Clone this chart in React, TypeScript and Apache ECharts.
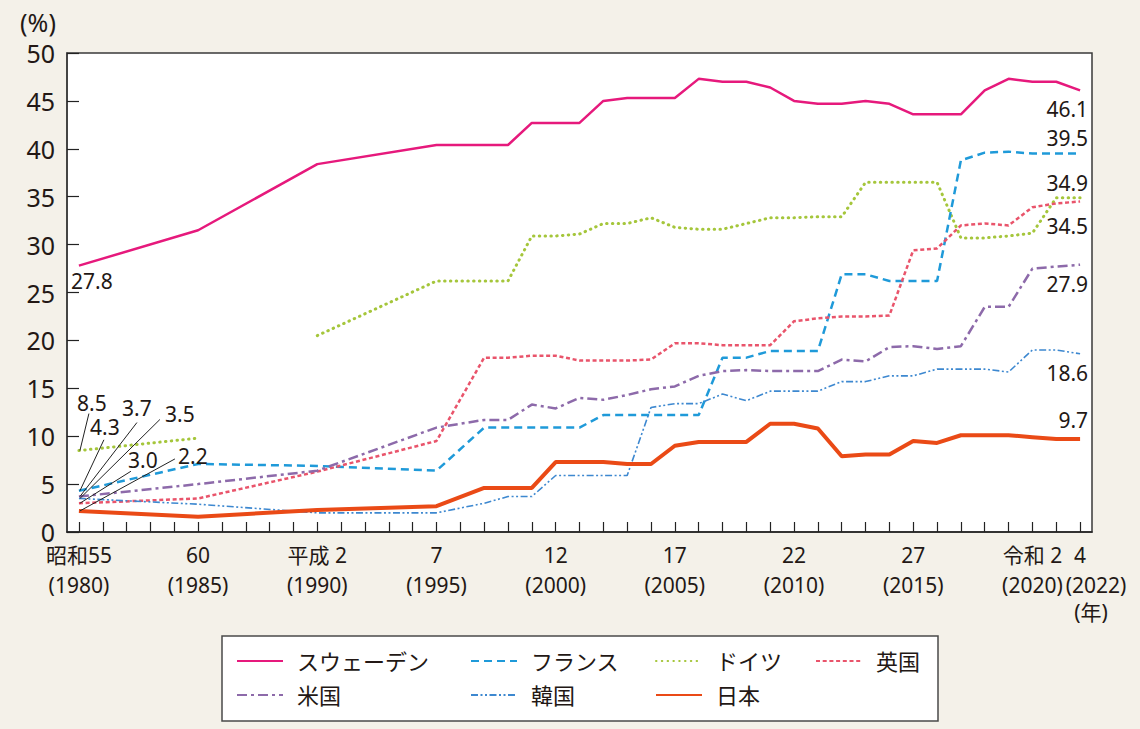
import React, { useEffect, useRef } from "react";
import * as echarts from "echarts";

const _ = null;

// categories: 1980 .. 2022
const years: string[] = Array.from({ length: 43 }, (_v, i) => String(1980 + i));

// x tick labels (index -> text)
const xLabels: Record<number, string> = {
  0: "昭和55\n(1980)",
  5: "60\n(1985)",
  10: "平成 2\n(1990)",
  15: "7\n(1995)",
  20: "12\n(2000)",
  25: "17\n(2005)",
  30: "22\n(2010)",
  35: "27\n(2015)",
  40: "令和 2\n(2020)",
};
const lastLabelTop = "4";
const lastLabelBottom = "(2022)";
const yearUnit = "(年)";
const yUnit = "(%)";

// series values (%) — 1980..2022, null where no data
const sweden = [27.8,_,_,_,_, 31.5,_,_,_,_, 38.4,_,_,_,_, 40.4,_,
  40.4,40.4,42.7,42.7,42.7,45.0,45.3,45.3,45.3,47.3,47.0,47.0,46.4,45.0,44.7,44.7,45.0,44.7,43.6,43.6,43.6,46.1,47.3,47.0,47.0,46.1];
const france = [4.3,_,_,_,_, 7.1,_,_,_,_, 6.9,_,_,_,_, 6.4,_,
  10.9,10.9,10.9,10.9,10.9,12.2,12.2,12.2,12.2,12.2,18.2,18.2,18.9,18.9,18.9,26.9,26.9,26.2,26.2,26.2,38.8,39.6,39.7,39.5,39.5,39.5];
const germany = [8.5,_,_,_,_, 9.8,_,_,_,_, 20.5,_,_,_,_, 26.2,_,
  26.2,26.2,30.9,30.9,31.1,32.2,32.2,32.8,31.8,31.6,31.6,32.2,32.8,32.8,32.9,32.9,36.5,36.5,36.5,36.5,30.7,30.7,30.9,31.2,34.9,34.9];
const uk = [3.0,_,_,_,_, 3.5,_,_,_,_, 6.3,_,_,_,_, 9.5,_,
  18.2,18.2,18.4,18.4,17.9,17.9,17.9,18.0,19.7,19.7,19.5,19.5,19.5,22.0,22.3,22.5,22.5,22.6,29.4,29.6,32.0,32.2,32.0,33.9,34.3,34.5];
const us = [3.7,_,_,_,_, 5.0,_,_,_,_, 6.4,_,_,_,_, 10.9,_,
  11.7,11.7,13.3,12.9,14.0,13.8,14.3,14.9,15.2,16.3,16.8,16.9,16.8,16.8,16.8,18.0,17.8,19.3,19.4,19.1,19.4,23.5,23.5,27.5,27.7,27.9];
const korea = [3.5,_,_,_,_, 2.9,_,_,_,_, 2.0,_,_,_,_, 2.0,_,
  3.0,3.7,3.7,5.9,5.9,5.9,5.9,13.0,13.4,13.4,14.4,13.7,14.7,14.7,14.7,15.7,15.7,16.3,16.3,17.0,17.0,17.0,16.7,19.0,19.0,18.6];
const japan = [2.2,_,_,_,_, 1.6,_,_,_,_, 2.3,_,_,_,_, 2.7,_,
  4.6,4.6,4.6,7.3,7.3,7.3,7.1,7.1,9.0,9.4,9.4,9.4,11.3,11.3,10.8,7.9,8.1,8.1,9.5,9.3,10.1,10.1,10.1,9.9,9.7,9.7];

const FONT = "'Noto Sans', 'Noto Sans CJK JP', sans-serif";
const TEXT = "#231815";

const styles: Record<string, any> = {
  "スウェーデン": { color: "#e6197c", width: 2.5, type: "solid" },
  "フランス": { color: "#1f9ad9", width: 2.5, type: [8, 5] },
  "ドイツ": { color: "#a5c63b", width: 3, type: [0.5, 5.3], cap: "round" },
  "英国": { color: "#e9546b", width: 2.5, type: [4, 2.7] },
  "米国": { color: "#8d6aaa", width: 2.5, type: [10, 4, 3, 4] },
  "韓国": { color: "#3d88d0", width: 1.6, type: [7, 2.5, 2, 2.5, 2, 2.5] },
  "日本": { color: "#ea4a16", width: 4, type: "solid" },
};

export default function App() {
  const ref = useRef<HTMLDivElement>(null);
  useEffect(() => {
    document.body.style.margin = "0";
    const chart = echarts.init(ref.current!, null, { renderer: "svg" });

    const mk = (name: string, data: (number | null)[], z = 2) => {
      const s = styles[name];
      return {
        name,
        type: "line",
        data,
        symbol: "none",
        connectNulls: true,
        silent: true,
        z,
        itemStyle: { color: s.color },
        lineStyle: { color: s.color, width: s.width, type: s.type, cap: s.cap || "butt" },
        emphasis: { disabled: true },
      };
    };

    const germanyWest = germany.map((v, i) => (i <= 5 ? v : null));
    const germanyUnified = germany.map((v, i) => (i >= 10 ? v : null));

    const legendBase = {
      orient: "vertical",
      top: 650,
      itemWidth: 46,
      itemHeight: 14,
      itemGap: 12,
      padding: 0,
      selectedMode: false,
      itemStyle: { opacity: 0 },
      textStyle: { fontSize: 22, fontFamily: FONT, color: TEXT, padding: [0, 0, 0, 9] },
    };

    const option: any = {
      animation: false,
      backgroundColor: "#f4f1e9",
      grid: {
        left: 67,
        top: 53,
        width: 1025,
        height: 479,
        show: true,
        backgroundColor: "#ffffff",
        borderColor: "#3a3a3a",
        borderWidth: 1.5,
      },
      xAxis: {
        type: "category",
        data: years,
        boundaryGap: true,
        axisLine: { lineStyle: { color: "#222", width: 1.5 } },
        axisTick: {
          show: true,
          inside: true,
          alignWithLabel: true,
          interval: 0,
          length: 10,
          lineStyle: { color: "#222", width: 1.2 },
        },
        axisLabel: {
          interval: (idx: number) => xLabels[idx] !== undefined,
          formatter: (_v: string, idx: number) => xLabels[idx] ?? "",
          fontSize: 21,
          fontFamily: FONT,
          color: TEXT,
          lineHeight: 30,
          margin: 8,
        },
        splitLine: { show: false },
      },
      yAxis: {
        type: "value",
        min: 0,
        max: 50,
        interval: 5,
        axisLine: { show: true, lineStyle: { color: "#3a3a3a", width: 1.5 } },
        axisTick: { show: true, inside: true, length: 12, lineStyle: { color: "#222", width: 1.2 } },
        axisLabel: { fontSize: 25, fontFamily: FONT, color: TEXT, margin: 12 },
        splitLine: { show: false },
      },
      legend: [
        { ...legendBase, left: 236, data: ["スウェーデン", "米国"] },
        { ...legendBase, left: 470, data: ["フランス", "韓国"] },
        { ...legendBase, left: 655, data: ["ドイツ", "日本"] },
        { ...legendBase, left: 815, data: ["英国"] },
      ],
      series: [
        mk("スウェーデン", sweden),
        mk("ドイツ", germanyWest),
        mk("ドイツ", germanyUnified),
        mk("フランス", france),
        mk("英国", uk),
        mk("米国", us),
        mk("韓国", korea),
        mk("日本", japan, 3),
      ],
    };
    chart.setOption(option);

    const px = (i: number, v: number) =>
      chart.convertToPixel({ xAxisIndex: 0, yAxisIndex: 0 }, [i, v]) as number[];

    const txt = (text: string, x: number, y: number, align = "center", size = 21) => ({
      type: "text",
      x,
      y,
      z: 10,
      style: {
        text,
        fontSize: size,
        fontFamily: FONT,
        fill: TEXT,
        align,
        verticalAlign: "middle",
        textAlign: align,
        textVerticalAlign: "middle",
      },
    });
    const seg = (x1: number, y1: number, x2: number, y2: number) => ({
      type: "line",
      z: 10,
      shape: { x1, y1, x2, y2 },
      style: { stroke: "#222", lineWidth: 1 },
    });

    const g: any[] = [];
    // legend frame
    g.push({
      type: "rect",
      z: 0,
      shape: { x: 222, y: 636, width: 716, height: 85 },
      style: { fill: "#ffffff", stroke: "#4a4a4a", lineWidth: 1.5 },
    });
    // unit label
    g.push(txt(yUnit, 38, 22, "center", 25));

    // last category label (shifted so it does not collide)
    const x42 = px(42, 0)[0];
    g.push(txt(lastLabelTop, x42, 555));
    g.push(txt(lastLabelBottom, x42 + 16, 585));
    g.push(txt(yearUnit, x42 + 11, 612));

    // first-year labels with leader lines: [data, lineDx, lineDy, labelDx, labelDy]
    const startLabels: [number[], number, number, number, number][] = [
      [germany, 10, -37, 13, -48],
      [france, 25, -51, 26, -64],
      [us, 58, -74, 58, -89],
      [korea, 81, -79, 101, -84],
      [uk, 52, -32, 64, -43],
      [japan, 96, -52, 114, -55],
    ];
    startLabels.forEach(([d, lx, ly, tx, ty]) => {
      const p = px(0, d[0]);
      g.push(seg(p[0] + 1, p[1], p[0] + lx, p[1] + ly));
      g.push(txt(d[0].toFixed(1), p[0] + tx, p[1] + ty));
    });
    const ps = px(0, sweden[0]);
    g.push(txt(sweden[0].toFixed(1), ps[0] + 13, ps[1] + 15));

    // last-year labels: [data, dy]
    const endLabels: [number[], number][] = [
      [sweden, 19],
      [france, -16],
      [germany, -15],
      [uk, 24.5],
      [us, 19],
      [korea, 19],
      [japan, -19],
    ];
    endLabels.forEach(([d, dy]) => {
      const v = d[42] as number;
      const p = px(42, v);
      g.push(txt(v.toFixed(1), p[0] + 8, p[1] + dy, "right"));
    });

    chart.setOption({ graphic: g });

    return () => chart.dispose();
  }, []);

  return <div ref={ref} style={{ width: 1140, height: 729 }} />;
}
